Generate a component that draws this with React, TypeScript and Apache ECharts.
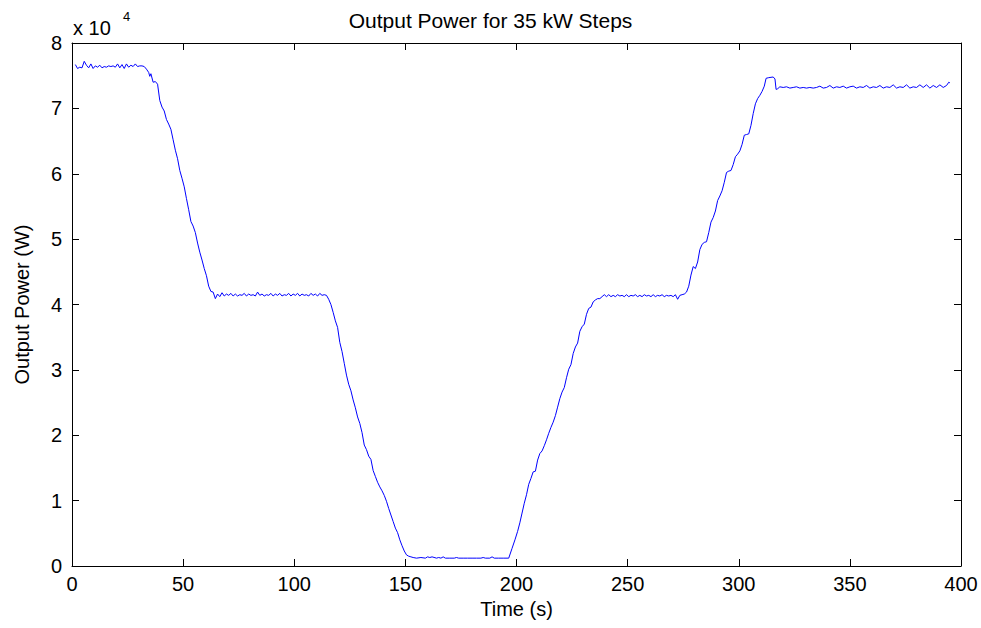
import React, { useEffect, useRef } from "react";
import * as echarts from "echarts";

const titleText = "Output Power for 35 kW Steps";
const xName = "Time (s)";
const yName = "Output Power (W)";
const xTicks = [0, 50, 100, 150, 200, 250, 300, 350, 400];
const yTicks = [0, 1, 2, 3, 4, 5, 6, 7, 8];

const times = [
  1.5, 2.5, 3.5, 4.5, 5.5, 6.5, 7.5, 8.5, 9.5, 10.5, 11.5, 12.5, 13.5, 14.5, 15.5, 16.5, 17.5, 18.5, 19.5, 20.5,
  21.5, 22.5, 23.5, 24.5, 25.5, 26.5, 27.5, 28.5, 29.5, 30.5, 31.5, 32.5, 33.5, 34.5, 35.0, 35.5, 36.5, 37.5, 38.5, 39.5,
  40.5, 41.5, 42.5, 43.5, 44.5, 45.5, 46.5, 47.5, 48.5, 49.5, 50.5, 51.5, 52.5, 53.5, 54.5, 55.5, 56.5, 57.5, 58.5, 59.5,
  60.5, 61.5, 62.5, 63.5, 64.5, 65.5, 66.5, 67.5, 68.5, 69.5, 70.5, 71.5, 72.5, 73.5, 74.5, 75.5, 76.5, 77.5, 78.5, 79.5,
  80.5, 81.5, 82.5, 83.5, 84.5, 85.5, 86.5, 87.5, 88.5, 89.5, 90.5, 91.5, 92.5, 93.5, 94.5, 95.5, 96.5, 97.5, 98.5, 99.5,
  100.5, 101.5, 102.5, 103.5, 104.5, 105.5, 106.5, 107.5, 108.5, 109.5, 110.5, 111.5, 112.5, 113.5, 114.5, 115.5, 116.5, 117.5, 118.5, 119.5,
  120.5, 121.5, 122.5, 123.5, 124.5, 125.5, 126.5, 127.5, 128.5, 129.5, 130.5, 131.5, 132.5, 133.5, 134.5, 135.5, 136.5, 137.5, 138.5, 139.5,
  140.5, 141.5, 142.5, 143.5, 144.5, 145.5, 146.5, 147.5, 148.5, 149.5, 150.5, 151.5, 152.5, 153.5, 155, 157, 159, 160, 161, 162,
  164, 165, 166, 167, 168, 170, 172, 173, 174, 176, 178, 180, 182, 184, 185, 186, 188, 189, 190, 192,
  194, 196.5, 198, 199.3, 200.5, 201.5, 202.5, 203.5, 204.5, 205.5, 206.5, 207.5, 208.5, 209.5, 210.5, 211.5, 212.5, 213.5, 214.5, 215.5,
  216.5, 217.5, 218.5, 219.5, 220.5, 221.5, 222.5, 223.5, 224.5, 225.5, 226.5, 227.5, 228.5, 229.5, 230.5, 231.5, 232.5, 233.5, 234.5, 235.5,
  236.5, 237.5, 238.5, 239.5, 240.5, 241.5, 242.5, 243.5, 244.5, 245.5, 246.5, 247.5, 248.5, 249.5, 250.5, 251.5, 252.5, 253.5, 254.5, 255.5,
  256.5, 257.5, 258.5, 259.5, 260.5, 261.5, 262.5, 263.5, 264.5, 265.5, 266.5, 267.5, 268.5, 269.5, 270.5, 271.5, 272.5, 273.5, 274.5, 275.5,
  276.5, 277.5, 278.5, 279.5, 280.5, 281.5, 282.5, 283.5, 284.5, 285.5, 286.5, 287.5, 288.5, 289.5, 290.5, 291.5, 292.5, 293.5, 294.5, 295.5,
  296.5, 297.5, 298.5, 299.5, 300.5, 301.5, 302.5, 303.5, 304.5, 305.5, 306.5, 307.5, 308.5, 309.5, 310.5, 311.5, 312.3, 313.5, 315.5, 316.3,
  316.8, 317.5, 318.5, 320, 321.5, 323, 324.5, 326, 327.5, 329, 330.5, 332, 333.5, 335, 336.5, 338, 339.5, 341, 342.5, 344,
  345.5, 347, 348.5, 350, 351.5, 353, 354.5, 356, 357.5, 359, 360.5, 362, 363.5, 365, 366.5, 368, 369.5, 371, 372.5, 374,
  375.5, 377, 378.5, 380, 381.5, 383, 384.5, 386, 387.5, 389, 390.5, 392, 393.5, 394.5, 395
];

const power = [
  76700, 76100, 76300, 76200, 77200, 76600, 76200, 76800, 76100, 76500, 76300, 76600, 76200, 76400, 76300, 76500, 76400, 76500, 76300, 76800,
  76200, 76700, 76100, 76800, 76300, 76600, 76400, 76800, 76400, 76500, 76500, 76400, 76000, 75500, 74900, 75300, 74000, 74100, 73700, 71200,
  70200, 69600, 68300, 67600, 66800, 65200, 63600, 62300, 60500, 59300, 58000, 56200, 54500, 52700, 52000, 51000, 49400, 48000, 46800, 45500,
  44400, 42800, 42000, 41900, 40900, 41600, 41200, 41800, 41300, 41600, 41400, 41700, 41300, 41600, 41300, 41500, 41400, 41700, 41300, 41600,
  41400, 41500, 41300, 41900, 41400, 41600, 41300, 41500, 41400, 41700, 41300, 41600, 41400, 41700, 41300, 41500, 41400, 41700, 41300, 41600,
  41400, 41700, 41300, 41600, 41400, 41500, 41300, 41700, 41400, 41600, 41300, 41700, 41400, 41500, 41400, 40800, 40000, 38800, 37500, 36500,
  34200, 32800, 31000, 29200, 27800, 26800, 25400, 24200, 22800, 21800, 20400, 18500, 17800, 16800, 16300, 14600, 13700, 12800, 12100, 11500,
  10800, 9900, 8800, 7800, 6800, 5800, 5100, 4000, 3100, 2300, 1700, 1500, 1400, 1300, 1200, 1300, 1200, 1400, 1300, 1400,
  1200, 1300, 1200, 1400, 1200, 1200, 1200, 1300, 1200, 1200, 1200, 1200, 1200, 1200, 1300, 1200, 1200, 1400, 1200, 1200,
  1200, 1200, 2700, 4000, 5300, 6600, 8100, 9600, 10900, 12500, 13400, 14400, 14500, 16200, 17200, 17600, 18400, 19300, 20300, 21200,
  22000, 23000, 24300, 25600, 26600, 27300, 28800, 30100, 30800, 32500, 33500, 34100, 35900, 36600, 37000, 38500, 39400, 39600, 40400, 40700,
  40900, 40900, 41200, 41500, 41200, 41500, 41200, 41400, 41200, 41500, 41300, 41400, 41200, 41500, 41200, 41400, 41300, 41500, 41200, 41400,
  41200, 41500, 41300, 41400, 41200, 41500, 41200, 41400, 41300, 41500, 41200, 41400, 41300, 41400, 41200, 41500, 40800, 41400, 41500, 41600,
  41900, 42800, 44500, 45800, 45500, 46500, 48400, 49200, 49500, 49600, 51000, 52600, 53300, 54300, 55900, 56600, 57400, 58700, 60200, 60400,
  60500, 61400, 62600, 63000, 63500, 64500, 65900, 66000, 66100, 67400, 69200, 70700, 71500, 72000, 72600, 73400, 74600, 74700, 74800, 74500,
  72900, 73000, 73300, 73200, 73300, 73100, 73200, 73300, 73100, 73200, 73100, 73200, 73100, 73200, 73400, 73100, 73200, 73500, 73100, 73300,
  73200, 73400, 73100, 73300, 73400, 73100, 73300, 73200, 73500, 73100, 73300, 73200, 73500, 73100, 73300, 73200, 73600, 73100, 73300, 73200,
  73600, 73100, 73300, 73200, 73600, 73200, 73600, 73100, 73500, 73200, 73600, 73200, 73500, 74000, 73900
];

const seriesData = times.map((t, i) => [t, power[i]]);

const FONT = "'Liberation Sans', Arial, sans-serif";

export default function App() {
  const ref = useRef<HTMLDivElement>(null);
  useEffect(() => {
    if (!ref.current) return;
    document.body.style.margin = "0";
    const chart = echarts.init(ref.current, null, { renderer: "svg" });
    const axisCommon = {
      type: "value" as const,
      axisLine: { show: true, onZero: false, lineStyle: { color: "#000", width: 1 } },
      axisTick: { show: true, inside: true, length: 7, lineStyle: { color: "#000" } },
      splitLine: { show: false },
    };
    chart.setOption({
      animation: false,
      backgroundColor: "#fff",
      textStyle: { fontFamily: FONT },
      title: {
        text: titleText,
        left: "center",
        top: 10,
        padding: 0,
        textStyle: { fontFamily: FONT, fontSize: 21, fontWeight: "normal", color: "#000" },
      },
      grid: { left: 72, top: 43, right: 20, bottom: 62, containLabel: false, outerBoundsMode: "none" },
      xAxis: [
        {
          ...axisCommon,
          position: "bottom",
          min: 0,
          max: 400,
          interval: 50,
          name: xName,
          nameLocation: "middle",
          nameGap: 30,
          nameTextStyle: { fontFamily: FONT, fontSize: 20, color: "#000" },
          axisLabel: { color: "#000", fontSize: 20, fontFamily: FONT, margin: 8, formatter: (v: number) => (xTicks.includes(v) ? String(v) : "") },
        },
        {
          ...axisCommon,
          position: "top",
          min: 0,
          max: 400,
          interval: 50,
          axisLabel: { show: false },
        },
      ],
      yAxis: [
        {
          ...axisCommon,
          position: "left",
          min: 0,
          max: 80000,
          interval: 10000,
          name: yName,
          nameLocation: "middle",
          nameGap: 40,
          nameTextStyle: { fontFamily: FONT, fontSize: 20, color: "#000" },
          axisLabel: {
            color: "#000",
            fontSize: 20,
            fontFamily: FONT,
            margin: 10,
            formatter: (v: number) => {
              const k = v / 10000;
              return yTicks.includes(k) ? String(k) : "";
            },
          },
        },
        {
          ...axisCommon,
          position: "right",
          min: 0,
          max: 80000,
          interval: 10000,
          axisLabel: { show: false },
        },
      ],
      graphic: [
        {
          type: "text",
          left: 73,
          top: 18,
          style: { text: "x 10", fontFamily: FONT, fontSize: 20, fill: "#000" },
        },
        {
          type: "text",
          left: 123,
          top: 10,
          style: { text: "4", fontFamily: FONT, fontSize: 13, fill: "#000" },
        },
      ],
      series: [
        {
          type: "line",
          data: seriesData,
          showSymbol: false,
          symbol: "none",
          lineStyle: { color: "#0000ff", width: 1 },
          itemStyle: { color: "#0000ff" },
          xAxisIndex: 0,
          yAxisIndex: 0,
        },
      ],
    });
    return () => chart.dispose();
  }, []);
  return <div ref={ref} style={{ width: 981, height: 628 }} />;
}
